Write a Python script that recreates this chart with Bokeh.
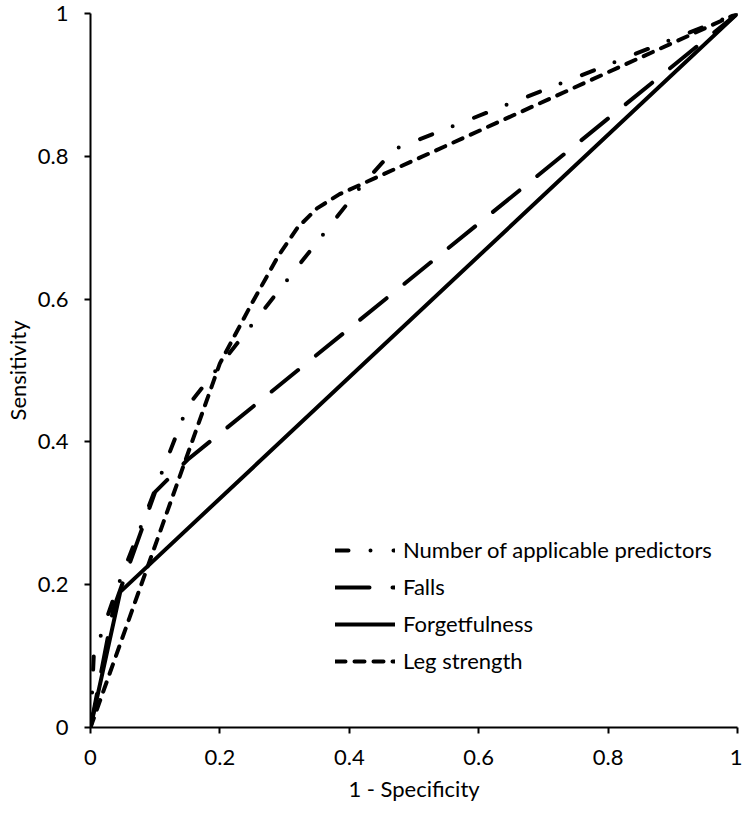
from bokeh.plotting import figure
from bokeh.models import Range1d, FixedTicker, Legend, LegendItem
from bokeh.embed import file_html
from bokeh.resources import INLINE

# ---- data ----
x_number = [0, 0.005, 0.043, 0.15, 0.42, 0.47, 1]
y_number = [0, 0.10, 0.20, 0.45, 0.76, 0.81, 1]

x_falls = [0, 0.035, 0.10, 0.15, 1]
y_falls = [0, 0.165, 0.33, 0.375, 1]

x_forget = [0, 0.046, 1]
y_forget = [0, 0.19, 1]

x_leg = [0, 0.20, 0.25, 0.29, 0.32, 0.35, 0.385, 1]
y_leg = [0, 0.51, 0.595, 0.66, 0.70, 0.727, 0.747, 1]

series_names = ["Number of applicable predictors", "Falls", "Forgetfulness", "Leg strength"]
tick_values = [0, 0.2, 0.4, 0.6, 0.8, 1]
tick_labels = ["0", "0.2", "0.4", "0.6", "0.8", "1"]

FONT = "Lato"
FS = "22px"

p = figure(width=742, height=805, output_backend="svg", toolbar_location=None,
           x_range=Range1d(0, 1), y_range=Range1d(0, 1),
           min_border_left=84, min_border_right=5, min_border_top=13, min_border_bottom=78)
p.outline_line_color = None
p.xgrid.visible = False
p.ygrid.visible = False
p.background_fill_color = "white"
p.border_fill_color = "white"

for ax in (p.xaxis[0], p.yaxis[0]):
    ax.ticker = FixedTicker(ticks=tick_values)
    ax.major_label_overrides = {v: l for v, l in zip(tick_values, tick_labels)}
    ax.axis_line_width = 2
    ax.axis_line_color = "black"
    ax.major_tick_line_width = 2
    ax.major_tick_line_color = "black"
    ax.major_tick_out = 6
    ax.major_tick_in = 0
    ax.minor_tick_line_color = None
    ax.major_label_text_font = FONT
    ax.major_label_text_font_size = FS
    ax.major_label_text_color = "black"
    ax.axis_label_text_font = FONT
    ax.axis_label_text_font_size = FS
    ax.axis_label_text_font_style = "normal"
    ax.axis_label_text_color = "black"

p.xaxis.axis_label = "1 - Specificity"
p.yaxis.axis_label = "Sensitivity"
p.xaxis.major_label_standoff = 16
p.yaxis.major_label_standoff = 16
p.xaxis.axis_label_standoff = 7
p.yaxis.axis_label_standoff = 4

common = dict(line_color="black", line_width=4, line_cap="round", line_join="round")
r1 = p.line(x_number, y_number, line_dash="13 22 0 23", **common)
r2 = p.line(x_falls, y_falls, line_dash="34 23", **common)
r3 = p.line(x_forget, y_forget, **common)
r4 = p.line(x_leg, y_leg, line_dash="10 9", **common)

legend = Legend(items=[LegendItem(label=n, renderers=[r]) for n, r in zip(series_names, [r1, r2, r3, r4])],
                location=(245, 53), margin=0, padding=0, spacing=10,
                glyph_width=60, glyph_height=20, label_height=20, label_standoff=8,
                label_text_font=FONT, label_text_font_size=FS, label_text_color="black",
                border_line_color=None, background_fill_alpha=0)
p.add_layout(legend)

open("out.html", "w").write(file_html(p, INLINE))
